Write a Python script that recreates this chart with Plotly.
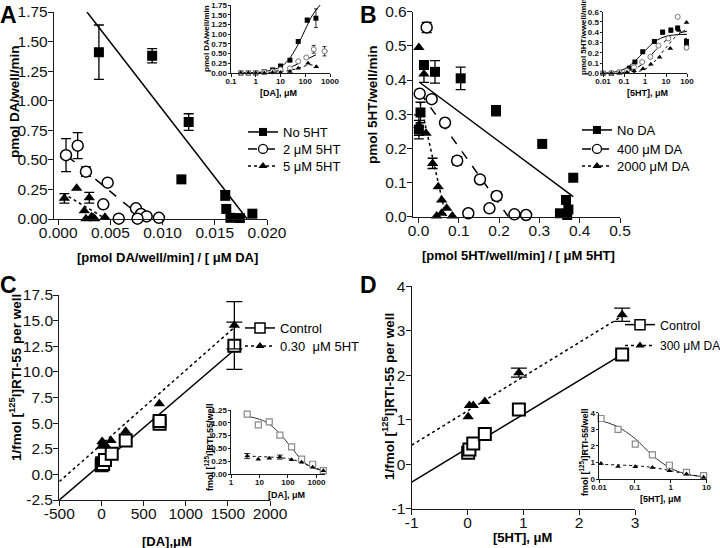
import plotly.graph_objects as go

W, H = 720, 548
FONT = "Liberation Sans, Arial, sans-serif"

# ---------------- Panel A (main, Eadie-Hofstee DA uptake) ----------------
a_no5ht_x = [0.0039, 0.0090, 0.0125, 0.0118, 0.0160, 0.0161, 0.0165, 0.0174, 0.0186]
a_no5ht_y = [1.41, 1.38, 0.82, 0.335, 0.20, 0.085, 0.01, 0.008, 0.045]
a_no5ht_err = [0.23, 0.06, 0.07, 0, 0.04, 0, 0, 0, 0]
a_2ht_x = [0.00075, 0.00187, 0.00266, 0.00474, 0.00432, 0.00745, 0.00793, 0.00847, 0.0058, 0.0076, 0.00965]
a_2ht_y = [0.54, 0.62, 0.40, 0.307, 0.124, 0.09, 0.042, 0.022, 0.003, 0.003, 0.01]
a_2ht_err = [0.14, 0.11, 0.04, 0, 0, 0, 0, 0, 0, 0, 0]
a_5ht_x = [0.00059, 0.00177, 0.00298, 0.0025, 0.00266, 0.0032, 0.00336, 0.0035, 0.00448]
a_5ht_y = [0.175, 0.26, 0.18, 0.07, 0.003, 0.02, 0.01, 0.003, 0.015]
a_5ht_err = [0.04, 0, 0.045, 0, 0, 0, 0, 0, 0]
a_fit_no5ht_x = [0.00276, 0.0181]
a_fit_no5ht_y = [1.75, 0.0]
a_fit_2ht_x = [0.0009, 0.0082]
a_fit_2ht_y = [0.53, 0.0]
a_fit_5ht_x = [0.0005, 0.0046]
a_fit_5ht_y = [0.215, 0.0]

# Panel A inset (saturation curves)
ai_sq_x = [0.25, 0.5, 1.0, 2.2, 4.8, 10, 24, 52, 120, 270]
ai_sq_y = [0, 0, 0, 0.03, 0.08, 0.18, 0.33, 0.81, 1.36, 1.41]
ai_sq_err = [0, 0, 0, 0, 0, 0, 0, 0, 0.05, 0.24]
ai_ci_x = [0.25, 0.5, 1.0, 2.2, 4.8, 10, 24, 52, 110, 220, 600]
ai_ci_y = [0, 0, 0, 0.02, 0.04, 0.09, 0.12, 0.30, 0.40, 0.61, 0.56]
ai_ci_err = [0, 0, 0, 0, 0, 0, 0, 0, 0, 0.1, 0.12]
ai_tr_x = [0.25, 0.5, 1.0, 2.2, 4.8, 10, 24, 52, 130, 280]
ai_tr_y = [0, 0, 0, 0, 0.01, 0.01, 0.04, 0.12, 0.25, 0.16]
ai_fit_sq_x = [0.2, 1, 3, 10, 20, 50, 100, 200, 400]
ai_fit_sq_y = [0, 0.01, 0.05, 0.16, 0.32, 0.72, 1.12, 1.5, 1.75]
ai_fit_ci_x = [0.2, 1, 3, 10, 30, 100, 300, 800]
ai_fit_ci_y = [0, 0.0, 0.02, 0.07, 0.17, 0.33, 0.48, 0.57]
ai_fit_tr_x = [0.2, 3, 10, 30, 70, 150, 300]
ai_fit_tr_y = [0, 0.01, 0.03, 0.08, 0.15, 0.21, 0.18]

# ---------------- Panel B (main, Eadie-Hofstee 5HT uptake) ----------------
b_noda_x = [0.001, 0.005, 0.0136, 0.041, 0.1047, 0.1923, 0.307, 0.384, 0.366, 0.351, 0.372, 0.369]
b_noda_y = [0.255, 0.305, 0.444, 0.424, 0.405, 0.31, 0.213, 0.114, 0.049, 0.01, 0.021, 0.005]
b_noda_err = [0.027, 0.03, 0.012, 0.033, 0.033, 0.015, 0, 0, 0, 0, 0, 0]
b_400_x = [0.003, 0.0203, 0.0327, 0.0658, 0.096, 0.1526, 0.194, 0.1236, 0.176, 0.238, 0.267]
b_400_y = [0.36, 0.554, 0.344, 0.275, 0.164, 0.109, 0.0606, 0.01, 0.0245, 0.007, 0.005]
b_400_err = [0, 0.015, 0, 0, 0.012, 0, 0.012, 0, 0, 0, 0]
b_2000_x = [0.001, 0.0136, 0.001, 0.0186, 0.035, 0.049, 0.0575, 0.07, 0.045, 0.0575, 0.084]
b_2000_y = [0.495, 0.418, 0.268, 0.244, 0.156, 0.088, 0.049, 0.025, 0.002, 0.01, 0.002]
b_2000_err = [0, 0.025, 0.03, 0, 0.015, 0, 0, 0, 0, 0, 0]
b_fit_noda_x = [0.004, 0.384]
b_fit_noda_y = [0.392, 0.0585]
b_fit_400_x = [0.004, 0.223]
b_fit_400_y = [0.363, 0.0]
b_fit_2000_x = [0.004, 0.068]
b_fit_2000_y = [0.336, 0.0]

# Panel B inset
bi_sq_x = [0.01, 0.025, 0.06, 0.18, 0.33, 0.78, 2.8, 6.9, 17, 36, 95, 95]
bi_sq_y = [0, 0, 0.01, 0.05, 0.11, 0.21, 0.31, 0.40, 0.42, 0.44, 0.31, 0.26]
bi_sq_err = [0, 0, 0, 0, 0, 0, 0, 0.02, 0.02, 0.02, 0.03, 0.03]
bi_ci_x = [0.01, 0.025, 0.06, 0.14, 0.3, 0.73, 1.8, 4.4, 13, 36, 95]
bi_ci_y = [0, 0.003, 0.01, 0.024, 0.058, 0.11, 0.16, 0.27, 0.34, 0.55, 0.25]
bi_tr_x = [0.01, 0.025, 0.06, 0.14, 0.3, 0.8, 1.9, 5, 16, 42, 95]
bi_tr_y = [0, 0, 0.002, 0.01, 0.024, 0.044, 0.088, 0.156, 0.241, 0.418, 0.495]
bi_fit_sq_x = [0.01, 0.03, 0.1, 0.3, 1, 3, 10, 30, 100]
bi_fit_sq_y = [0, 0.01, 0.04, 0.11, 0.22, 0.31, 0.36, 0.375, 0.38]
bi_fit_ci_x = [0.01, 0.1, 0.3, 1, 3, 10, 30, 100]
bi_fit_ci_y = [0, 0.01, 0.04, 0.11, 0.22, 0.32, 0.38, 0.41]
bi_fit_tr_x = [0.01, 0.1, 0.3, 1, 3, 10, 30, 100]
bi_fit_tr_y = [0, 0, 0.01, 0.04, 0.12, 0.25, 0.36, 0.43]

# ---------------- Panel C (Dixon plot, DA) ----------------
c_ctrl_x = [3, 8, 20, 42, 122, 288, 690, 690, 1577]
c_ctrl_y = [0.9, 1.08, 1.0, 1.4, 2.0, 3.3, 4.95, 5.2, 12.55]
c_ctrl_err = [0, 0, 0, 0, 0, 0, 0, 0, 2.3]
c_5ht_x = [3, 8, 20, 50, 113, 288, 687, 1577]
c_5ht_y = [2.75, 3.2, 3.05, 2.85, 3.3, 4.2, 6.9, 14.55]
c_5ht_err = [0, 0, 0, 0, 0, 0, 0, 2.3]
c_fit_ctrl_x = [-500, 1600]
c_fit_ctrl_y = [-2.5, 12.3]
c_fit_5ht_x = [-500, 1600]
c_fit_5ht_y = [-0.7, 14.5]

# Panel C inset
ci_x = [3.7, 9.1, 22, 52, 134, 302, 735, 1740]
ci_ctrl_y = [1.17, 0.96, 1.02, 0.76, 0.53, 0.29, 0.19, 0.065]
ci_5ht_y = [0.35, 0.29, 0.31, 0.33, 0.28, 0.23, 0.13, 0.065]
ci_5ht_err = [0.05, 0, 0, 0.04, 0, 0, 0, 0]
ci_fit_ctrl_x = [3.5, 10, 20, 50, 100, 130, 300, 700, 1800]
ci_fit_ctrl_y = [1.13, 1.07, 0.99, 0.80, 0.60, 0.53, 0.27, 0.13, 0.06]
ci_fit_5ht_x = [3.5, 10, 50, 100, 200, 500, 1000, 1800]
ci_fit_5ht_y = [0.35, 0.34, 0.32, 0.30, 0.26, 0.17, 0.11, 0.065]

# ---------------- Panel D (Dixon plot, 5HT) ----------------
d_x = [0.0114, 0.034, 0.103, 0.31, 0.92, 2.77]
d_ctrl_y = [0.26, 0.33, 0.47, 0.68, 1.23, 2.47]
d_da_y = [1.07, 1.32, 1.32, 1.41, 2.06, 3.36]
d_da_err = [0, 0, 0, 0, 0.1, 0.15]
d_fit_ctrl_x = [-1, 2.77]
d_fit_ctrl_y = [-0.40, 2.47]
d_fit_da_x = [-1, 2.77]
d_fit_da_y = [0.43, 3.33]

# Panel D inset
di_x = [0.0114, 0.034, 0.103, 0.31, 0.92, 2.77, 8.3]
di_ctrl_y = [3.65, 3.0, 2.1, 1.45, 0.83, 0.4, 0.2]
di_da_y = [0.93, 0.75, 0.74, 0.70, 0.50, 0.30, 0.10]
di_fit_ctrl_x = [0.01, 0.03, 0.1, 0.3, 1, 3, 10]
di_fit_ctrl_y = [3.55, 3.2, 2.45, 1.45, 0.65, 0.28, 0.12]
di_fit_da_x = [0.01, 0.1, 0.3, 1, 3, 10]
di_fit_da_y = [0.88, 0.8, 0.7, 0.5, 0.28, 0.12]

fig = go.Figure()


def axnames(n):
    return ("x" if n == 1 else f"x{n}"), ("y" if n == 1 else f"y{n}")


def pts(x, y, n, marker, err=None, errw=5, errt=1.3):
    """Add markers; points with error bars are drawn with error_y."""
    xa, ya = axnames(n)
    if err is None:
        err = [0] * len(x)
    xe = [xi for xi, e in zip(x, err) if e > 0]
    ye = [yi for yi, e in zip(y, err) if e > 0]
    ee = [e for e in err if e > 0]
    xn = [xi for xi, e in zip(x, err) if e <= 0]
    yn = [yi for yi, e in zip(y, err) if e <= 0]
    if xn:
        fig.add_trace(go.Scatter(x=xn, y=yn, mode="markers", marker=marker, xaxis=xa, yaxis=ya,
                                 showlegend=False, cliponaxis=False, hoverinfo="skip"))
    if xe:
        fig.add_trace(go.Scatter(x=xe, y=ye, mode="markers", marker=marker, xaxis=xa, yaxis=ya,
                                 error_y=dict(type="data", array=ee, color="black", thickness=errt, width=errw),
                                 showlegend=False, cliponaxis=False, hoverinfo="skip"))


def line(x, y, n, dash="solid", width=1.5, color="black", shape="linear"):
    xa, ya = axnames(n)
    fig.add_trace(go.Scatter(x=x, y=y, mode="lines", line=dict(color=color, width=width, dash=dash, shape=shape),
                             xaxis=xa, yaxis=ya, showlegend=False, cliponaxis=False, hoverinfo="skip"))


LEGENDS = {}


def leg(name, dash, marker, n, xpx, ypx, size=13):
    """One legend entry; line sample starts near xpx, text centred at ypx."""
    key = "legend" if not LEGENDS else f"legend{len(LEGENDS) + 1}"
    LEGENDS[key] = dict(x=xpx / W, y=1 - (ypx - 13) / H, xanchor="left", yanchor="top",
                        bgcolor="rgba(0,0,0,0)", borderwidth=0, itemwidth=30, itemclick=False,
                        font=dict(family=FONT, size=size, color="black"))
    xa, ya = axnames(n)
    fig.add_trace(go.Scatter(x=[None], y=[None], mode="lines+markers", name=name, legend=key,
                             line=dict(color="black", width=1.5, dash=dash), marker=marker,
                             xaxis=xa, yaxis=ya, showlegend=True))


SQ = dict(symbol="square", size=10, color="black")
CI = dict(symbol="circle", size=11, color="white", line=dict(color="black", width=1.5))
TR = dict(symbol="triangle-up", size=10, color="black")
OSQ = dict(symbol="square", size=12, color="white", line=dict(color="black", width=2))
lSQ = dict(symbol="square", size=8, color="black")
lCI = dict(symbol="circle", size=9, color="white", line=dict(color="black", width=1.3))
lTR = dict(symbol="triangle-up", size=8, color="black")
lOSQ = dict(symbol="square", size=10, color="white", line=dict(color="black", width=1.5))
sSQ = dict(symbol="square", size=5, color="black")
sCI = dict(symbol="circle", size=5, color="white", line=dict(color="#777", width=1))
sTR = dict(symbol="triangle-up", size=5, color="black")
gSQ = dict(symbol="square", size=6, color="white", line=dict(color="#8a8a8a", width=1.2))

# ---- A main
line(a_fit_no5ht_x, a_fit_no5ht_y, 1)
line(a_fit_2ht_x, a_fit_2ht_y, 1, dash="dash")
line(a_fit_5ht_x, a_fit_5ht_y, 1, dash="dot")
pts(a_no5ht_x, a_no5ht_y, 1, SQ, a_no5ht_err)
pts(a_2ht_x, a_2ht_y, 1, CI, a_2ht_err)
pts(a_5ht_x, a_5ht_y, 1, TR, a_5ht_err)
leg("No 5HT", "solid", lSQ, 1, 243, 130)
leg("2 \u03bcM 5HT", "dash", lCI, 1, 243, 147)
leg("5 \u03bcM 5HT", "dot", lTR, 1, 243, 164)
# ---- A inset
line(ai_fit_sq_x, ai_fit_sq_y, 2, width=1, shape="spline")
line(ai_fit_ci_x, ai_fit_ci_y, 2, dash="dash", width=1, shape="spline")
line(ai_fit_tr_x, ai_fit_tr_y, 2, dash="dot", width=1, shape="spline")
pts(ai_sq_x, ai_sq_y, 2, sSQ, ai_sq_err, errw=2, errt=0.8)
pts(ai_ci_x, ai_ci_y, 2, sCI, ai_ci_err, errw=2, errt=0.8)
pts(ai_tr_x, ai_tr_y, 2, sTR)

# ---- B main
line(b_fit_noda_x, b_fit_noda_y, 3)
line(b_fit_400_x, b_fit_400_y, 3, dash="dash")
line(b_fit_2000_x, b_fit_2000_y, 3, dash="dot")
pts(b_noda_x, b_noda_y, 3, SQ, b_noda_err)
pts(b_400_x, b_400_y, 3, CI, b_400_err)
pts(b_2000_x, b_2000_y, 3, TR, b_2000_err)
leg("No DA", "solid", lSQ, 3, 577, 128)
leg("400 \u03bcM DA", "dash", lCI, 3, 577, 147)
leg("2000 \u03bcM DA", "dot", lTR, 3, 577, 164)
# ---- B inset
line(bi_fit_sq_x, bi_fit_sq_y, 4, width=1, shape="spline")
line(bi_fit_ci_x, bi_fit_ci_y, 4, dash="dash", width=1, shape="spline")
line(bi_fit_tr_x, bi_fit_tr_y, 4, dash="dot", width=1, shape="spline")
pts(bi_sq_x, bi_sq_y, 4, sSQ, bi_sq_err, errw=2, errt=0.8)
pts(bi_ci_x, bi_ci_y, 4, sCI)
pts(bi_tr_x, bi_tr_y, 4, sTR)

# ---- C main
line(c_fit_ctrl_x, c_fit_ctrl_y, 5)
line(c_fit_5ht_x, c_fit_5ht_y, 5, dash="dot")
pts(c_ctrl_x, c_ctrl_y, 5, OSQ, c_ctrl_err, errw=8)
pts(c_5ht_x, c_5ht_y, 5, TR, c_5ht_err, errw=8)
leg("Control", "solid", lOSQ, 5, 240, 326)
leg("0.30  \u03bcM 5HT", "dot", lTR, 5, 240, 344)
# ---- C inset
line(ci_fit_ctrl_x, ci_fit_ctrl_y, 6, width=1, color="#333", shape="spline")
line(ci_fit_5ht_x, ci_fit_5ht_y, 6, dash="dot", width=1, shape="spline")
pts(ci_x, ci_ctrl_y, 6, gSQ)
pts(ci_x, ci_5ht_y, 6, sTR, ci_5ht_err, errw=3, errt=0.8)

# ---- D main
line(d_fit_ctrl_x, d_fit_ctrl_y, 7)
line(d_fit_da_x, d_fit_da_y, 7, dash="dot")
pts(d_x, d_ctrl_y, 7, OSQ)
pts(d_x, d_da_y, 7, TR, d_da_err, errw=8)
leg("Control", "solid", lOSQ, 7, 620, 323, size=12.5)
leg("300 \u03bcM DA", "dot", lTR, 7, 620, 344, size=12)
# ---- D inset
line(di_fit_ctrl_x, di_fit_ctrl_y, 8, width=1, color="#333", shape="spline")
line(di_fit_da_x, di_fit_da_y, 8, dash="dot", width=1, shape="spline")
pts(di_x, di_ctrl_y, 8, gSQ)
pts(di_x, di_da_y, 8, sTR)


def fx(a, b):
    return [a / W, b / W]


def fy(top, bottom):
    return [1 - bottom / H, 1 - top / H]


def axstyle(main=True, is_x=True):
    if main:
        d = dict(showline=True, linecolor="#1a1a1a", linewidth=1.4, ticks="outside", ticklen=5,
                 tickwidth=1.4, tickcolor="#1a1a1a", showgrid=False, zeroline=False, automargin=False,
                 tickfont=dict(family=FONT, size=15.5, color="#111"))
        d["ticklabelstandoff"] = -6 if is_x else -3
        return d
    d = dict(showline=True, linecolor="#1a1a1a", linewidth=1, ticks="outside", ticklen=2.5,
             tickwidth=1, tickcolor="#1a1a1a", showgrid=False, zeroline=False, automargin=False,
             tickfont=dict(family=FONT, size=8, color="#111", weight="bold"))
    d["ticklabelstandoff"] = -2 if is_x else -1
    return d


def set_axes(n, xpx, ypx, xr, yr, main=True, xlog=False, xt=None, yt=None):
    xs = axstyle(main, True)
    ys = axstyle(main, False)
    xs.update(domain=fx(*xpx), range=xr, anchor=f"y{n}" if n > 1 else "y")
    ys.update(domain=fy(*ypx), range=yr, anchor=f"x{n}" if n > 1 else "x")
    if xlog:
        xs["type"] = "log"
    if xt:
        xs.update(tickmode="array", tickvals=xt[0], ticktext=xt[1])
    if yt:
        ys.update(tickmode="array", tickvals=yt[0], ticktext=yt[1])
    fig.layout[f"xaxis{n}" if n > 1 else "xaxis"] = xs
    fig.layout[f"yaxis{n}" if n > 1 else "yaxis"] = ys


a_xt = ([0, 0.005, 0.010, 0.015, 0.020], ["0.000", "0.005", "0.010", "0.015", "0.020"])
a_yt = ([0, 0.25, 0.5, 0.75, 1.0, 1.25, 1.5, 1.75], ["0.00", "0.25", "0.50", "0.75", "1.00", "1.25", "1.50", "1.75"])
ai_xt = ([0.1, 1, 10, 100, 1000], ["0.1", "1", "10", "100", "1000"])
b_xt = ([0, 0.1, 0.2, 0.3, 0.4, 0.5], ["0.0", "0.1", "0.2", "0.3", "0.4", "0.5"])
b_yt = ([0, 0.1, 0.2, 0.3, 0.4, 0.5, 0.6], ["0.0", "0.1", "0.2", "0.3", "0.4", "0.5", "0.6"])
bi_xt = ([0.01, 0.1, 1, 10, 100], ["0.01", "0.1", "1", "10", "100"])
c_xt = ([-500, 0, 500, 1000, 1500, 2000], ["-500", "0", "500", "1000", "1500", "2000"])
c_yt = ([-2.5, 0, 2.5, 5, 7.5, 10, 12.5, 15, 17.5], ["-2.5", "0.0", "2.5", "5.0", "7.5", "10.0", "12.5", "15.0", "17.5"])
ci_xt = ([1, 10, 100, 1000], ["1", "10", "100", "1000"])
ci_yt = ([0, 0.25, 0.5, 0.75, 1.0, 1.25], ["0.00", "0.25", "0.50", "0.75", "1.00", "1.25"])
d_xt = ([-1, 0, 1, 2, 3], ["-1", "0", "1", "2", "3"])
d_yt = ([-1, 0, 1, 2, 3, 4], ["-1", "0", "1", "2", "3", "4"])
di_xt = ([0.01, 0.1, 1, 10], ["0.01", "0.1", "1", "10"])
di_yt = ([0, 1, 2, 3, 4], ["0", "1", "2", "3", "4"])

set_axes(1, (54, 267), (12, 219), [-0.0004, 0.020], [0, 1.75], xt=a_xt, yt=a_yt)
set_axes(2, (231, 330), (5, 73), [-1, 3], [0, 1.75], main=False, xlog=True, xt=ai_xt, yt=a_yt)
set_axes(3, (413, 620), (11.7, 216.7), [-0.0136, 0.5], [0, 0.6], xt=b_xt, yt=b_yt)
set_axes(4, (603, 687), (11.7, 73.3), [-2, 2], [0, 0.6], main=False, xlog=True, xt=bi_xt, yt=b_yt)
set_axes(5, (59.3, 270), (295, 500), [-500, 2000], [-2.5, 17.5], xt=c_xt, yt=c_yt)
set_axes(6, (231, 325), (410, 474), [0, 3.3], [0, 1.25], main=False, xlog=True, xt=ci_xt, yt=ci_yt)
set_axes(7, (411.7, 635), (286.3, 508.8), [-1, 3], [-1, 4], xt=d_xt, yt=d_yt)
set_axes(8, (599, 706.5), (412.7, 479), [-2, 1], [0, 4], main=False, xlog=True, xt=di_xt, yt=di_yt)


def ann(text, xpx, ypx, size=13, bold=True, angle=0):
    fig.add_annotation(text=text, x=xpx / W, y=1 - ypx / H, xref="paper", yref="paper",
                       showarrow=False, textangle=angle, xanchor="center", yanchor="middle",
                       font=dict(family=FONT, size=size, color="black", weight="bold" if bold else "normal"))


# panel letters
ann("A", 8, 15, size=23)
ann("B", 368, 15, size=23)
ann("C", 8, 285, size=23)
ann("D", 368, 285, size=23)
# A titles
ann("pmol DA/well/min", 14, 102, size=13.5, angle=-90)
ann("[pmol DA/well/min] / [ \u03bcM DA]", 167, 257)
ann("pmol DA/well/min", 207, 38, size=8, angle=-90)
ann("[DA], \u03bcM", 278, 93, size=9)
# B titles
ann("pmol 5HT/well/min", 373, 105, size=13.5, angle=-90)
ann("[pmol 5HT/well/min] / [ \u03bcM 5HT]", 518, 255)
ann("pmol 5HT/wwell/min", 583, 37, size=8, angle=-90)
ann("[5HT], \u03bcM", 647, 93, size=9)
# C titles
ann("1/fmol [<sup>125</sup>I]RTI-55 per well", 15, 378, size=13.5, angle=-90)
ann("[DA],\u03bcM", 167, 541)
ann("fmol [<sup>125</sup>I]RTI-55/well", 209, 447, size=9, angle=-90)
ann("[DA], \u03bcM", 286, 495, size=9)
# D titles
ann("1/fmol [<sup>125</sup>I]RTI-55 per well", 388, 397, size=13.5, angle=-90)
ann("[5HT], \u03bcM", 522, 537)
ann("fmol [<sup>125</sup>I]RTI-55/well", 584, 452, size=9, angle=-90)
ann("[5HT], \u03bcM", 660, 499, size=9)

fig.update_layout(
    width=W, height=H, margin=dict(l=0, r=0, t=0, b=0, pad=0, autoexpand=False),
    paper_bgcolor="white", plot_bgcolor="rgba(0,0,0,0)",
    showlegend=True,
    font=dict(family=FONT),
    **LEGENDS,
)

fig.write_html("out.html", config={"displayModeBar": False},
               post_script="document.body.style.margin='0';")
